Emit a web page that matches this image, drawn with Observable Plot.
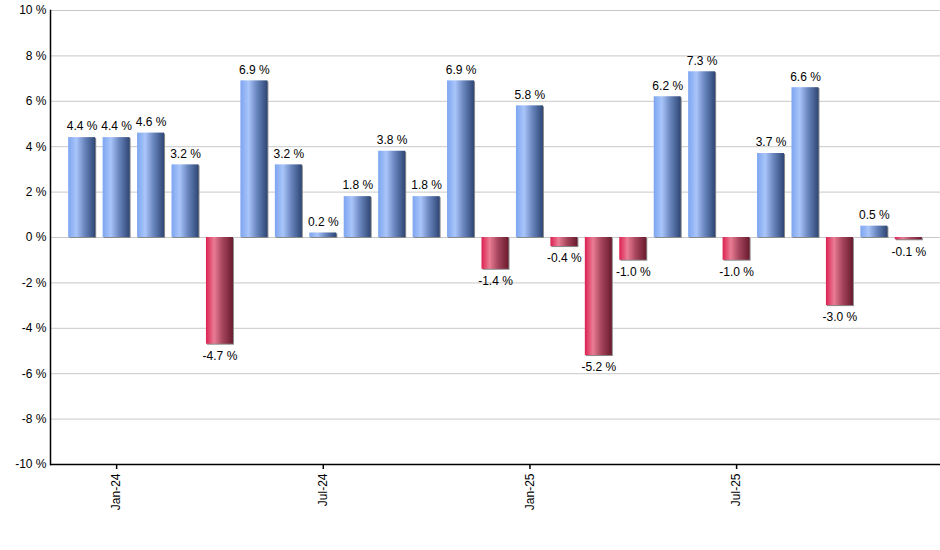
<!DOCTYPE html>
<html>
<head>
<meta charset="utf-8">
<script src="https://cdn.jsdelivr.net/npm/d3@7"></script>
<script src="https://cdn.jsdelivr.net/npm/@observablehq/plot@0.6"></script>
<style>
  html, body { margin: 0; padding: 0; background: #fff; }
  #chart svg { display: block; }
</style>
</head>
<body>
<div id="chart"></div>
<script>
const months = ["Dec-23","Jan-24","Feb-24","Mar-24","Apr-24","May-24","Jun-24","Jul-24","Aug-24","Sep-24","Oct-24","Nov-24","Dec-24","Jan-25","Feb-25","Mar-25","Apr-25","May-25","Jun-25","Jul-25","Aug-25","Sep-25","Oct-25","Nov-25","Dec-25"];
const values = [4.4, 4.4, 4.6, 3.2, -4.7, 6.9, 3.2, 0.2, 1.8, 3.8, 1.8, 6.9, -1.4, 5.8, -0.4, -5.2, -1.0, 6.2, 7.3, -1.0, 3.7, 6.6, -3.0, 0.5, -0.1];
const tickLabels = ["Jan-24","Jul-24","Jan-25","Jul-25"];
const yTicks = [-10,-8,-6,-4,-2,0,2,4,6,8,10];

const data = months.map((m, i) => ({month: m, value: values[i]}));
const pos = data.filter(d => d.value >= 0);
const neg = data.filter(d => d.value < 0);
const fmt = v => v.toFixed(1) + " %";

const chart = Plot.plot({
  width: 940,
  height: 550,
  marginTop: 10,
  marginBottom: 86,
  marginLeft: 50,
  marginRight: 0,
  style: {fontFamily: "Arial, 'Liberation Sans', sans-serif", fontSize: "12px", color: "#000", background: "#fff"},
  x: {type: "band", domain: months, paddingInner: 0.216, paddingOuter: 0.528, round: false, label: null},
  y: {domain: [-10, 10], label: null},
  marks: [
    Plot.gridY(yTicks, {stroke: "#c8c8c8", strokeOpacity: 1, strokeWidth: 1}),
    // bar shadow
    Plot.barY(data, {x: "month", y: "value", fill: "#8a8a8a", dx: 1, dy: 1}),
    Plot.barY(pos, {x: "month", y: "value", fill: "url(#gradBlue)"}),
    Plot.barY(neg, {x: "month", y: "value", fill: "url(#gradRed)"}),
    Plot.text(pos, {x: "month", y: "value", text: d => fmt(d.value), dy: -11, fill: "#000", fontSize: 12}),
    Plot.text(neg, {x: "month", y: "value", text: d => fmt(d.value), dy: 12, fill: "#000", fontSize: 12}),
    Plot.axisY({ticks: yTicks, tickFormat: d => d + " %", tickSize: 0, tickPadding: 4, fontSize: 12}),
    Plot.frame({anchor: "left", stroke: "#000", strokeWidth: 1.5}),
    Plot.ruleY([-10], {stroke: "#000", strokeWidth: 1.5}),
    Plot.axisX({ticks: tickLabels, tickSize: 5, tickRotate: -90, tickPadding: 4, fontSize: 12, stroke: "#000", strokeWidth: 1.5})
  ]
});

// gradients
const svg = d3.select(chart);
const defs = svg.insert("defs", ":first-child");
function addGrad(id, stops) {
  const g = defs.append("linearGradient").attr("id", id)
    .attr("x1", "0%").attr("x2", "100%").attr("y1", "0%").attr("y2", "0%");
  stops.forEach(([o, c]) => g.append("stop").attr("offset", o).attr("stop-color", c));
}
addGrad("gradBlue", [["0%", "#7da5f0"], ["30%", "#a9c5fa"], ["60%", "#6a87c0"], ["100%", "#2e4674"]]);
addGrad("gradRed", [["0%", "#dc2050"], ["30%", "#ea7d95"], ["60%", "#a8475e"], ["100%", "#6a1a2e"]]);

document.getElementById("chart").appendChild(chart);
</script>
</body>
</html>
